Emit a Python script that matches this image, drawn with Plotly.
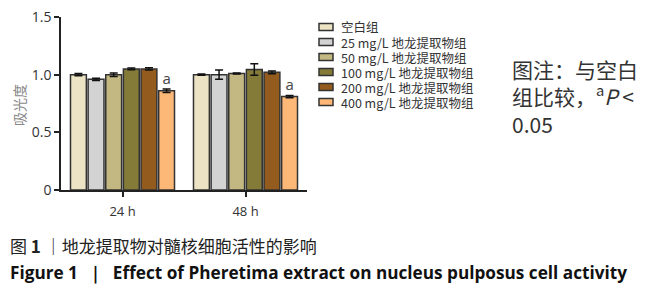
import plotly.graph_objects as go

times = ["24 h", "48 h"]
groups = ["空白组", "25 mg/L 地龙提取物组", "50 mg/L 地龙提取物组",
          "100 mg/L 地龙提取物组", "200 mg/L 地龙提取物组", "400 mg/L 地龙提取物组"]
values = [
    [1.00, 1.00],
    [0.96, 1.00],
    [1.00, 1.01],
    [1.05, 1.045],
    [1.05, 1.02],
    [0.86, 0.81],
]
errors = [
    [0.01, 0.005],
    [0.01, 0.04],
    [0.015, 0.005],
    [0.008, 0.05],
    [0.01, 0.012],
    [0.015, 0.01],
]
marks = [["", ""], ["", ""], ["", ""], ["", ""], ["", ""], ["a", "a"]]
colors = ["#ebe3c3", "#d3d3d3", "#c4b882", "#857b38", "#935c1e", "#fdb878"]
ytickvals = [0, 0.5, 1.0, 1.5]
yticktext = ["0", "0.5", "1.0", "1.5"]

# page body has an 8px default margin: work in screen pixels and shift
OFF = 8
W, H = 648 - OFF, 300 - OFF
L, R, T, B = 61, 307, 17, 190          # plot area in screen pixels
PW, PH = R - L, B - T


def px(x):
    return (x - L) / PW


def py(y):
    return (B - y) / PH


fig = go.Figure()
for g, v, e, m, c in zip(groups, values, errors, marks, colors):
    fig.add_trace(go.Bar(
        x=times, y=v, name=g, showlegend=False,
        marker=dict(color=c, line=dict(color="#333333", width=1.5)),
        error_y=dict(type="data", array=e, visible=True, color="#111111",
                     thickness=1.5, width=4),
        text=m, textposition="outside", cliponaxis=False,
        textfont=dict(size=15, color="#444444", family="Open Sans"),
    ))

fig.update_layout(
    width=W, height=H,
    margin=dict(l=L - OFF, r=W - (R - OFF), t=T - OFF, b=H - (B - OFF),
                autoexpand=False),
    barmode="group", bargap=0.14, bargroupgap=0.1,
    plot_bgcolor="white", paper_bgcolor="white",
    showlegend=False,
    font=dict(family="Open Sans", color="#333333"),
)
fig.update_xaxes(
    range=[-0.5, 1.5], showline=True, linecolor="#222222", linewidth=1.5,
    ticks="outside", ticklen=5, tickcolor="#222222", tickwidth=1.5,
    tickfont=dict(size=13, color="#333333", family="Open Sans"),
    automargin=False, ticklabelstandoff=4, ticklabeloverflow="allow",
)
fig.update_yaxes(
    range=[0, 1.5], tickvals=ytickvals, ticktext=yticktext,
    showline=True, linecolor="#222222", linewidth=1.5,
    ticks="outside", ticklen=5, tickcolor="#222222", tickwidth=1.5,
    showgrid=False, zeroline=False, automargin=False,
    ticklabeloverflow="allow",
    tickfont=dict(size=14, color="#333333", family="Open Sans"),
)
# y-axis title
fig.add_annotation(
    xref="paper", yref="paper", x=px(19), y=py(105), textangle=-90,
    xanchor="center", yanchor="middle", showarrow=False, text="吸光度",
    font=dict(size=14, color="#888888", family="Noto Sans CJK SC"),
)

# compact legend built from the group names / colours
row0, dy = 27, 15
for i, (g, c) in enumerate(zip(groups, colors)):
    yc = row0 + i * dy
    fig.add_shape(
        type="rect", xref="paper", yref="paper",
        x0=px(319), x1=px(333), y0=py(yc + 3.5), y1=py(yc - 3.5),
        fillcolor=c, line=dict(color="#333333", width=1.5),
    )
    fig.add_annotation(
        xref="paper", yref="paper", x=px(339), y=py(yc),
        xanchor="left", yanchor="middle", showarrow=False, text=g,
        font=dict(size=12.5, color="#333333", family="Noto Sans CJK SC"),
    )

fig.add_annotation(
    xref="paper", yref="paper", x=px(510), y=py(52),
    xanchor="left", yanchor="top", align="left", showarrow=False,
    text="图注：与空白<br>组比较，<sup>a</sup><i>P</i> <<br>0.05",
    font=dict(size=21, color="#333333", family="Noto Sans CJK SC"),
)
fig.add_annotation(
    xref="paper", yref="paper", x=px(8), y=py(245),
    xanchor="left", yanchor="middle", align="left", showarrow=False,
    text="图 <b>1</b> ｜地龙提取物对髓核细胞活性的影响",
    font=dict(size=17, color="#222222", family="Noto Sans CJK SC"),
)
fig.add_annotation(
    xref="paper", yref="paper", x=px(8), y=py(272),
    xanchor="left", yanchor="middle", align="left", showarrow=False,
    text="<b>Figure 1  ｜  Effect of Pheretima extract on nucleus pulposus cell activity</b>",
    font=dict(size=17.2, color="#111111", family="Open Sans"),
)

fig.write_html("out.html")
